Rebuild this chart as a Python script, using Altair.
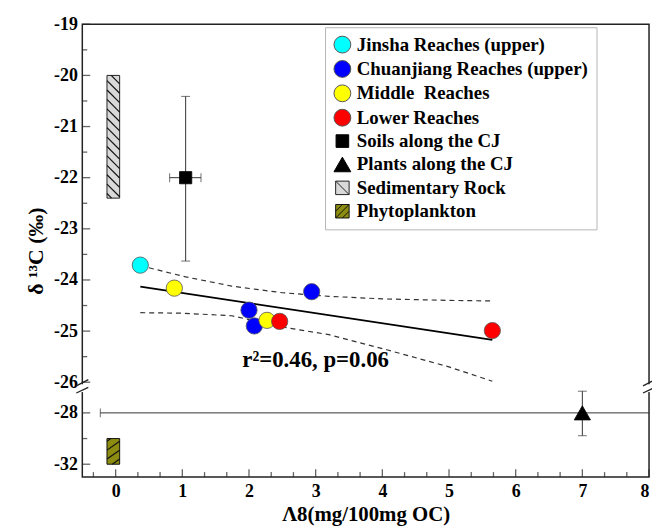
import altair as alt
import pandas as pd

# ---------------- data ----------------
SERIES = ["Jinsha Reaches (upper)", "Chuanjiang Reaches (upper)", "Middle\u00a0 Reaches",
          "Lower Reaches", "Soils along the CJ", "Plants along the CJ",
          "Sedimentary Rock", "Phytoplankton"]
COLORS = ["#00ffff", "#0000ff", "#ffff00", "#ff0000", "#000000", "#000000", "#d9d9d9", "#8c8c10"]
STROKES = ["#555555", "#555555", "#555555", "#555555", "#000000", "#000000", "#222222", "#111111"]

# river samples
PT_SERIES = [SERIES[0], SERIES[2], SERIES[1], SERIES[1], SERIES[2], SERIES[3], SERIES[1], SERIES[3]]
PT_X = [0.37, 0.88, 2.00, 2.08, 2.27, 2.46, 2.94, 5.65]
PT_Y = [-23.71, -24.16, -24.59, -24.90, -24.79, -24.81, -24.23, -24.99]

# end-members with error bars
EM_SERIES = [SERIES[4], SERIES[5]]
EM_X = [1.05, 7.0]
EM_Y = [-22.0, -28.0]
EM_Y_LO = [-23.63, -29.78]
EM_Y_HI = [-20.41, -26.31]
EM_X_LO = [0.81, -0.23]
EM_X_HI = [1.28, 8.0]

# range boxes (sedimentary rock, phytoplankton)
BOX_SERIES = [SERIES[6], SERIES[7]]
BOX_X0 = [-0.13, -0.13]
BOX_X1 = [0.06, 0.06]
BOX_Y0 = [-22.4, -32.0]
BOX_Y1 = [-20.0, -30.0]

# regression line and 95% band
REG_X = [0.37, 5.65]
REG_Y = [-24.13, -25.17]
UP_X = [0.37, 1.05, 1.74, 2.5, 3.2, 4.0, 5.0, 5.65]
UP_Y = [-23.72, -23.94, -24.12, -24.25, -24.32, -24.37, -24.40, -24.41]
LO_X = [0.37, 1.0, 1.74, 2.5, 3.2, 4.08, 5.0, 5.65]
LO_Y = [-24.64, -24.65, -24.70, -24.92, -25.07, -25.37, -25.70, -25.98]

ANNOT = "r\u00b2=0.46, p=0.06"
ANNOT_X, ANNOT_Y = 1.90, -25.70

X_TICKS = [0, 1, 2, 3, 4, 5, 6, 7, 8]
X_MINOR = [k / 3 for k in range(-1, 25) if k % 3 != 0]
Y_TICKS = [-19, -20, -21, -22, -23, -24, -25, -26, -28, -32]
Y_MINOR = [-19.5, -20.5, -21.5, -22.5, -23.5, -24.5, -25.5, -30]

# ---------------- layout / scales ----------------
W, H = 572, 457
X_DOMAIN = [-0.5, 8.0]
Y_LOW, Y_BREAK, Y_HIGH = -33.0, -26.13, -19.0
Y_BREAK_PX = 368
X_PX = W / (X_DOMAIN[1] - X_DOMAIN[0])
Y_PX_UP = Y_BREAK_PX / (Y_HIGH - Y_BREAK)
Y_PX_LO = (H - Y_BREAK_PX) / (Y_BREAK - Y_LOW)

SERIF = "Liberation Serif"

XS = alt.Scale(domain=X_DOMAIN, nice=False, zero=False)
YS = alt.Scale(type="linear", domain=[Y_LOW, Y_BREAK, Y_HIGH], range=[H, Y_BREAK_PX, 0],
               nice=False, zero=False)

XAX = alt.Axis(values=X_TICKS, ticks=False, tickSize=0, domain=False, grid=False,
               labelPadding=20, labelBaseline="alphabetic", labelFont=SERIF, labelFontSize=18,
               labelFontWeight="bold", labelColor="black", labelExpr="datum.value + ''",
               title="\u039b8(mg/100mg OC)", titleFont=SERIF, titleFontSize=21,
               titleFontWeight="bold", titleColor="black", titleY=44, titleBaseline="alphabetic")
YAX = alt.Axis(values=Y_TICKS, ticks=False, tickSize=0, domain=False, grid=False,
               labelPadding=5, labelFont=SERIF, labelFontSize=18, labelFontWeight="bold",
               labelColor="black", labelExpr="datum.value + ''",
               title="\u03b4 \u00b9\u00b3C (\u2030)", titleFont=SERIF, titleFontSize=22,
               titleFontWeight="bold", titleColor="black", titleX=-40, titleBaseline="alphabetic")


def X(f):
    return alt.X(f, type="quantitative", scale=XS, axis=XAX)


def Y(f):
    return alt.Y(f, type="quantitative", scale=YS, axis=YAX)


# legend shapes
SQ = "M-0.75,-0.75H0.75V0.75H-0.75Z"
SED = "M-0.8,-0.8H0.8V0.8H-0.8Z M-0.8,-0.8L0.8,0.8"
PHY = "M-0.8,-0.8H0.8V0.8H-0.8Z M-0.8,0.8L0.8,-0.8 M-0.8,0L0,-0.8 M0,0.8L0.8,0"
SHAPES = ["circle", "circle", "circle", "circle", SQ, "triangle-up", SED, PHY]

LEG = alt.Legend(title=None, orient="none", legendX=245, legendY=3, padding=8,
                 strokeColor="#b5b5b5", labelFont=SERIF, labelFontSize=19,
                 labelFontWeight="bold", labelColor="black", symbolSize=289,
                 symbolStrokeWidth=1, symbolOpacity=1,
                 labelOffset=5, rowPadding=3.6, labelLimit=500)

# ---------------- derived tables ----------------
pts = pd.DataFrame({"x": PT_X + EM_X, "y": PT_Y + EM_Y, "series": PT_SERIES + EM_SERIES})
boxes = pd.DataFrame({"x": BOX_X0, "x2": BOX_X1, "y": BOX_Y0, "y2": BOX_Y1, "series": BOX_SERIES})


def hatch(x0, x1, y0, y1, m, step, phase):
    segs = []
    w = x1 - x0
    cmin = min(y0, y0 - m * w)
    cmax = max(y1, y1 - m * w)
    c = cmin + phase
    while c < cmax:
        t1, t2 = (y0 - c) / m, (y1 - c) / m
        tmin, tmax = max(0.0, min(t1, t2)), min(w, max(t1, t2))
        if tmax - tmin > 1e-3:
            segs.append({"x": x0 + tmin, "y": c + m * tmin, "x2": x0 + tmax, "y2": c + m * tmax})
        c += step
    return segs


hatch_rows = hatch(BOX_X0[0], BOX_X1[0], BOX_Y0[0], BOX_Y1[0], -X_PX / Y_PX_UP, 9.5 / Y_PX_UP, 0.09)
hatch_rows += hatch(BOX_X0[1], BOX_X1[1], BOX_Y0[1], BOX_Y1[1], 0.7 * X_PX / Y_PX_LO, 9.0 / Y_PX_LO, 0.4)
hatches = pd.DataFrame(hatch_rows)

vbars = pd.DataFrame({"x": EM_X, "y": EM_Y_LO, "y2": EM_Y_HI})
hbars = pd.DataFrame({"x": EM_X_LO, "x2": EM_X_HI, "y": EM_Y})
hcaps = pd.DataFrame({"x": EM_X + EM_X, "y": EM_Y_LO + EM_Y_HI})
vcaps = pd.DataFrame({"x": [EM_X_LO[0], EM_X_HI[0], EM_X_LO[1]], "y": [EM_Y[0], EM_Y[0], EM_Y[1]]})

reg = pd.DataFrame({"x": REG_X, "y": REG_Y})
band = pd.DataFrame({"x": UP_X + LO_X, "y": UP_Y + LO_Y,
                     "band": ["upper"] * len(UP_X) + ["lower"] * len(LO_X)})
annot = pd.DataFrame({"x": [ANNOT_X], "y": [ANNOT_Y], "t": [ANNOT]})

ytk = pd.DataFrame({"y": Y_TICKS})
ymn = pd.DataFrame({"y": Y_MINOR})
xtk = pd.DataFrame({"x": X_TICKS})
xmn = pd.DataFrame({"x": X_MINOR})

# axis break marks (left and right frame edges)
brk_gap = pd.DataFrame({"x": X_DOMAIN, "y": [Y_BREAK + 0.09] * 2, "y2": [Y_BREAK - 0.25] * 2})
brk_rows = []
for xe in X_DOMAIN:
    brk_rows.append({"x": xe - 0.09, "y": Y_BREAK + 0.06, "x2": xe + 0.09, "y2": Y_BREAK + 0.18})
    brk_rows.append({"x": xe - 0.09, "y": Y_BREAK - 0.32, "x2": xe + 0.09, "y2": Y_BREAK + 0.03})
brk = pd.DataFrame(brk_rows)

# ---------------- layers ----------------
color_enc = alt.Color("series:N", scale=alt.Scale(domain=SERIES, range=COLORS), legend=LEG)
shape_enc = alt.Shape("series:N", scale=alt.Scale(domain=SERIES, range=SHAPES), legend=LEG)
stroke_enc = alt.Stroke("series:N", scale=alt.Scale(domain=SERIES, range=STROKES), legend=LEG)

box_layer = alt.Chart(boxes).mark_rect(strokeWidth=1, opacity=1).encode(
    x=X("x"), x2="x2", y=Y("y"), y2="y2", color=color_enc, stroke=stroke_enc)
hatch_layer = alt.Chart(hatches).mark_rule(color="#111111", strokeWidth=1.2).encode(
    x=X("x"), x2="x2", y=Y("y"), y2="y2")

hbar_layer = alt.Chart(hbars).mark_rule(color="#333333", strokeWidth=1).encode(
    x=X("x"), x2="x2", y=Y("y"))
vbar_layer = alt.Chart(vbars).mark_rule(color="#333333", strokeWidth=1).encode(
    x=X("x"), y=Y("y"), y2="y2")
hcap_layer = alt.Chart(hcaps).mark_tick(orient="horizontal", size=9, thickness=1,
                                        color="#333333").encode(x=X("x"), y=Y("y"))
vcap_layer = alt.Chart(vcaps).mark_tick(orient="vertical", size=9, thickness=1,
                                        color="#333333").encode(x=X("x"), y=Y("y"))

band_layer = alt.Chart(band).mark_line(strokeDash=[5, 4], strokeWidth=1.2, color="#333333").encode(
    x=X("x"), y=Y("y"), detail="band:N")
reg_layer = alt.Chart(reg).mark_line(strokeWidth=1.8, color="#000000").encode(x=X("x"), y=Y("y"))

pt_layer = alt.Chart(pts).mark_point(filled=True, size=270, opacity=1, strokeWidth=0.8).encode(
    x=X("x"), y=Y("y"), color=color_enc, shape=shape_enc, stroke=stroke_enc)

txt_layer = alt.Chart(annot).mark_text(align="left", baseline="alphabetic", font=SERIF,
                                       fontSize=23, fontWeight="bold", color="black").encode(
    x=X("x"), y=Y("y"), text="t:N")

ytk_layer = alt.Chart(ytk).mark_tick(orient="horizontal", size=8, thickness=1.3, xOffset=4,
                                     color="#222222").encode(x=alt.datum(X_DOMAIN[0]), y=Y("y"))
ymn_layer = alt.Chart(ymn).mark_tick(orient="horizontal", size=5, thickness=1.3, xOffset=2.5,
                                     color="#222222").encode(x=alt.datum(X_DOMAIN[0]), y=Y("y"))
xtk_layer = alt.Chart(xtk).mark_tick(orient="vertical", size=8, thickness=1.3, yOffset=-4,
                                     color="#222222").encode(x=X("x"), y=alt.datum(Y_LOW))
xmn_layer = alt.Chart(xmn).mark_tick(orient="vertical", size=5, thickness=1.3, yOffset=-2.5,
                                     color="#222222").encode(x=X("x"), y=alt.datum(Y_LOW))

gap_layer = alt.Chart(brk_gap).mark_rule(color="white", strokeWidth=5).encode(
    x=X("x"), y=Y("y"), y2="y2")
brk_layer = alt.Chart(brk).mark_rule(color="#222222", strokeWidth=1.3).encode(
    x=X("x"), x2="x2", y=Y("y"), y2="y2")

chart = alt.layer(
    box_layer, hatch_layer, hbar_layer, vbar_layer, hcap_layer, vcap_layer,
    band_layer, reg_layer, pt_layer, txt_layer,
    ytk_layer, ymn_layer, xtk_layer, xmn_layer, gap_layer, brk_layer
).resolve_scale(color="shared", shape="shared", stroke="shared").properties(
    width=W, height=H,
    autosize=alt.AutoSizeParams(type="none"),
    padding={"left": 75, "top": 14, "right": 3, "bottom": 50},
    background="white",
).configure_view(stroke="#222222", strokeWidth=1.5)

chart.save("out.html", embed_options={"renderer": "svg", "actions": False})
